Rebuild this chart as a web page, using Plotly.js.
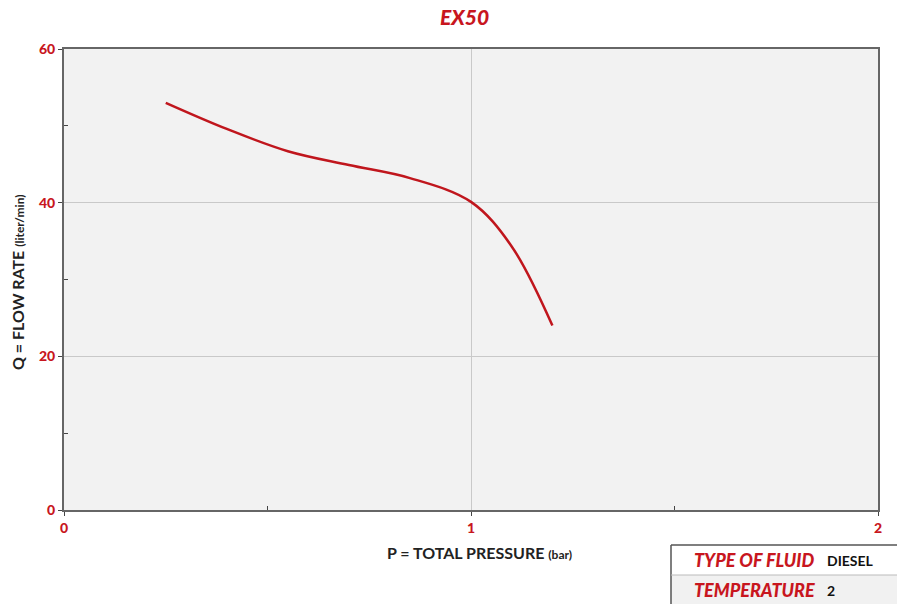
<!DOCTYPE html>
<html>
<head>
<meta charset="utf-8">
<script src="https://cdn.plot.ly/plotly-3.0.1.min.js"></script>
<style>html,body{margin:0;padding:0;background:#fff;}#chart{width:897px;height:604px;}</style>
</head>
<body>
<div id="chart"></div>
<script>
const pressure = [0.25, 0.40, 0.55, 0.70, 0.85, 1.0, 1.1, 1.2];
const flowRate = [53.0, 49.6, 46.7, 44.9, 43.2, 40.1, 34.3, 24.0];
const xTicks = [0, 1, 2];
const yTicks = [0, 20, 40, 60];
const chartTitle = "EX50";
const xTitle = "P = TOTAL PRESSURE <span style='font-size:12px'>(bar)</span>";
const yTitle = "Q = FLOW RATE <span style='font-size:12px'>(liter/min)</span>";
const tableLabels = ["TYPE OF FLUID", "TEMPERATURE"];
const tableValues = ["DIESEL", "2"];

const RED = "#c8161e";
const FONT = "Lato, 'Open Sans', sans-serif";

const W = 897, H = 604, L = 64, R = 19, T = 49, B = 94;
const pw = W - L - R, ph = H - T - B;
const px = v => (v - L) / pw;
const py = v => (H - B - v) / ph;

const trace = {
  x: pressure, y: flowRate, type: "scatter", mode: "lines",
  line: {color: "#c0161d", width: 2.5, shape: "spline", smoothing: 1},
  hoverinfo: "skip"
};

const axisCommon = {
  showline: true, linecolor: "#666", linewidth: 2, mirror: true,
  ticks: "outside", ticklen: 4, tickcolor: "#444", tickwidth: 1,
  gridcolor: "#c9c9c9", gridwidth: 1, zeroline: false,
  tickfont: {family: FONT, size: 14, color: RED, weight: 900},
  fixedrange: true
};

const layout = {
  width: W, height: H,
  margin: {l: L, r: R, t: T, b: B},
  paper_bgcolor: "#fff", plot_bgcolor: "#f2f2f2",
  showlegend: false,
  title: {text: chartTitle, x: 0.518, xanchor: "center", y: 1 - 18/H, yanchor: "middle",
          font: {family: FONT, size: 21, color: RED, weight: 900, style: "italic"}},
  xaxis: Object.assign({}, axisCommon, {
    range: [0, 2], tickvals: xTicks, ticktext: xTicks.map(String),
    minor: {tickvals: [0.5, 1.5], ticks: "inside", ticklen: 4, tickcolor: "#444", showgrid: false}
  }),
  yaxis: Object.assign({}, axisCommon, {
    range: [0, 60], tickvals: yTicks, ticktext: yTicks.map(String),
    minor: {tickvals: [10, 30, 50], ticks: "inside", ticklen: 4, tickcolor: "#444", showgrid: false}
  }),
  annotations: [
    {text: xTitle, xref: "paper", yref: "paper", x: px(479), y: py(552), xanchor: "center", yanchor: "middle",
     showarrow: false, font: {family: FONT, size: 16, color: "#222", weight: "bold"}},
    {text: yTitle, xref: "paper", yref: "paper", x: px(17), y: py(282), xanchor: "center", yanchor: "middle",
     textangle: -90, showarrow: false, font: {family: FONT, size: 16, color: "#222", weight: "bold"}},
    {text: tableLabels[0], xref: "paper", yref: "paper", x: px(692), y: py(560), xanchor: "left", yanchor: "middle",
     showarrow: false, font: {family: FONT, size: 18, color: RED, weight: 900, style: "italic"}},
    {text: tableValues[0], xref: "paper", yref: "paper", x: px(825), y: py(560), xanchor: "left", yanchor: "middle",
     showarrow: false, font: {family: FONT, size: 14, color: "#111", weight: "bold"}},
    {text: tableLabels[1], xref: "paper", yref: "paper", x: px(692), y: py(590), xanchor: "left", yanchor: "middle",
     showarrow: false, font: {family: FONT, size: 18, color: RED, weight: 900, style: "italic"}},
    {text: tableValues[1], xref: "paper", yref: "paper", x: px(825), y: py(590), xanchor: "left", yanchor: "middle",
     showarrow: false, font: {family: FONT, size: 14, color: "#111", weight: "bold"}}
  ],
  shapes: [
    {type: "rect", xref: "paper", yref: "paper", x0: px(671), x1: px(900), y0: py(545), y1: py(575),
     fillcolor: "#ffffff", line: {width: 0}, layer: "below"},
    {type: "rect", xref: "paper", yref: "paper", x0: px(671), x1: px(900), y0: py(575), y1: py(606),
     fillcolor: "#f1f1f1", line: {width: 0}, layer: "below"},
    {type: "line", xref: "paper", yref: "paper", x0: px(671), x1: px(900), y0: py(545), y1: py(545),
     line: {color: "#555", width: 1.5}},
    {type: "line", xref: "paper", yref: "paper", x0: px(671), x1: px(671), y0: py(545), y1: py(606),
     line: {color: "#555", width: 1.5}},
    {type: "line", xref: "paper", yref: "paper", x0: px(671), x1: px(900), y0: py(575), y1: py(575),
     line: {color: "#bbb", width: 1}}
  ]
};

Plotly.newPlot("chart", [trace], layout, {displayModeBar: false, staticPlot: true});
</script>
</body>
</html>
